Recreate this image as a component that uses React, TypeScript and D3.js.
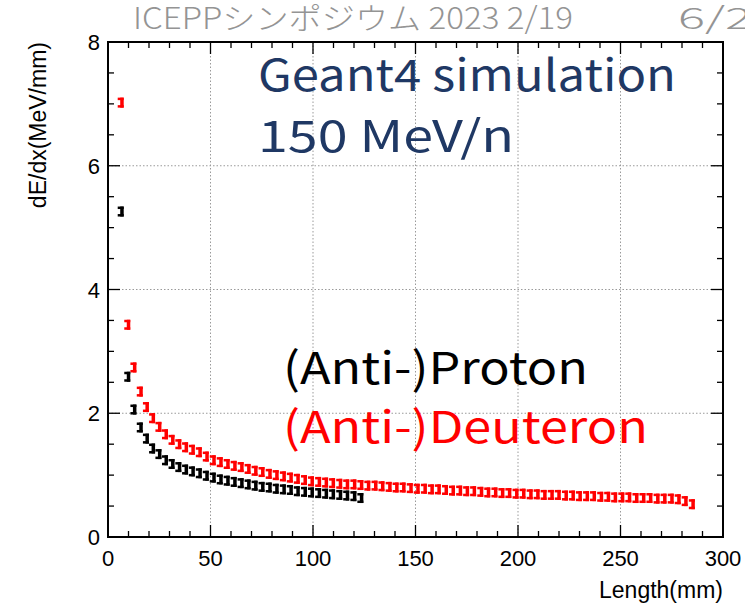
import React, { useEffect, useRef } from 'react';
import * as d3 from 'd3';

// track length (mm) at which each dE/dx sample sits
const lengths: number[] = [
  6.2, 9.4, 12.4, 15.5, 18.5, 21.5, 24.6, 27.8, 31.0, 34.3,
  37.6, 40.9, 44.3, 47.7, 51.1, 54.5, 57.9, 61.3, 64.7, 68.1,
  71.5, 74.9, 78.4, 81.8, 85.3, 88.7, 92.1, 95.6, 99.0, 102.5,
  105.9, 109.3, 112.8, 116.2, 119.7, 123.1, 126.5, 130.0, 133.4, 136.9,
  140.3, 143.7, 147.2, 150.6, 154.1, 157.5, 160.9, 164.4, 167.8, 171.3,
  174.7, 178.1, 181.6, 185.0, 188.5, 191.9, 195.3, 198.8, 202.2, 205.7,
  209.1, 212.5, 216.0, 219.4, 222.9, 226.3, 229.7, 233.2, 236.6, 240.1,
  243.5, 246.9, 250.4, 253.8, 257.3, 260.7, 264.1, 267.6, 271.0, 274.5,
  277.9, 281.3, 284.8,
];

// (Anti-)Proton dE/dx, MeV/mm
const protonDedx: number[] = [
  5.26, 2.59, 2.06, 1.77, 1.59, 1.43, 1.34, 1.24, 1.18, 1.13,
  1.09, 1.06, 1.03, 0.99, 0.96, 0.93, 0.91, 0.89, 0.87, 0.85,
  0.83, 0.81, 0.80, 0.78, 0.77, 0.76, 0.74, 0.73, 0.72, 0.71,
  0.70, 0.69, 0.68, 0.67, 0.66, 0.63,
];

// (Anti-)Deuteron dE/dx, MeV/mm
const deuteronDedx: number[] = [
  7.02, 3.43, 2.74, 2.35, 2.10, 1.92, 1.78, 1.66, 1.57, 1.50,
  1.45, 1.41, 1.37, 1.30, 1.24, 1.21, 1.18, 1.15, 1.13, 1.10,
  1.07, 1.05, 1.02, 1.00, 0.98, 0.96, 0.94, 0.92, 0.90, 0.89,
  0.88, 0.87, 0.86, 0.85, 0.85, 0.84, 0.83, 0.83, 0.82, 0.81,
  0.80, 0.80, 0.79, 0.78, 0.78, 0.77, 0.77, 0.76, 0.75, 0.75,
  0.74, 0.74, 0.73, 0.72, 0.72, 0.71, 0.71, 0.70, 0.70, 0.69,
  0.69, 0.68, 0.68, 0.68, 0.67, 0.67, 0.66, 0.66, 0.66, 0.65,
  0.65, 0.64, 0.64, 0.64, 0.63, 0.63, 0.63, 0.62, 0.62, 0.62,
  0.61, 0.58, 0.53,
];

const xTicks = [0, 50, 100, 150, 200, 250, 300];
const yTicks = [0, 2, 4, 6, 8];

const W = 745;
const H = 604;
const rootFont = '"Liberation Sans", Arial, sans-serif';
const jpFont = '"Noto Sans CJK JP", "Noto Sans", sans-serif';

const App: React.FC = () => {
  const svgRef = useRef<SVGSVGElement | null>(null);

  useEffect(() => {
    if (!svgRef.current) return;
    const svg = d3.select(svgRef.current);
    svg.selectAll('*').remove();

    const x = d3.scaleLinear().domain([0, 300]).range([108, 723]);
    const y = d3.scaleLinear().domain([0, 8]).range([537, 42]);
    const [x0, x1] = x.range();
    const [y0, y1] = y.range();

    svg.append('rect').attr('width', W).attr('height', H).attr('fill', '#fff');

    // dotted grid at major ticks
    const grid = svg.append('g').attr('stroke', '#9a9a9a').attr('stroke-width', 1)
      .attr('stroke-dasharray', '1.5,2');
    grid.selectAll('line.gx').data(xTicks.slice(1, -1)).enter().append('line')
      .attr('x1', d => x(d)).attr('x2', d => x(d)).attr('y1', y0).attr('y2', y1);
    grid.selectAll('line.gy').data(yTicks.slice(1, -1)).enter().append('line')
      .attr('y1', d => y(d)).attr('y2', d => y(d)).attr('x1', x0).attr('x2', x1);

    // ticks on all four sides, pointing inward
    const ticks = svg.append('g').attr('stroke', '#000').attr('stroke-width', 1.3);
    const xMinor = d3.range(0, 301, 10);
    const yMinor = d3.range(0, 8.01, 0.5);
    xMinor.forEach(v => {
      const len = v % 50 === 0 ? 12 : 6;
      ticks.append('line').attr('x1', x(v)).attr('x2', x(v)).attr('y1', y0).attr('y2', y0 - len);
      ticks.append('line').attr('x1', x(v)).attr('x2', x(v)).attr('y1', y1).attr('y2', y1 + len);
    });
    yMinor.forEach(v => {
      const len = v % 2 === 0 ? 12 : 6;
      ticks.append('line').attr('y1', y(v)).attr('y2', y(v)).attr('x1', x0).attr('x2', x0 + len);
      ticks.append('line').attr('y1', y(v)).attr('y2', y(v)).attr('x1', x1).attr('x2', x1 - len);
    });

    svg.append('rect')
      .attr('x', x0).attr('y', y1).attr('width', x1 - x0).attr('height', y0 - y1)
      .attr('fill', 'none').attr('stroke', '#000').attr('stroke-width', 2);

    // tick labels
    svg.append('g').selectAll('text').data(xTicks).enter().append('text')
      .attr('x', d => x(d)).attr('y', 566).attr('text-anchor', 'middle')
      .attr('font-family', rootFont).attr('font-size', 22).text(d => d);
    svg.append('g').selectAll('text').data(yTicks).enter().append('text')
      .attr('x', 100).attr('y', d => y(d) + 8).attr('text-anchor', 'end')
      .attr('font-family', rootFont).attr('font-size', 22).text(d => d);

    svg.append('text').attr('x', x1).attr('y', 598).attr('text-anchor', 'end')
      .attr('font-family', rootFont).attr('font-size', 23).text('Length(mm)');
    svg.append('text').attr('transform', `translate(46,${y1}) rotate(-90)`)
      .attr('text-anchor', 'end').attr('font-family', rootFont).attr('font-size', 23)
      .text('dE/dx(MeV/mm)');

    // ROOT-ish error-bar markers: a small "]" glyph
    const marker = (g: d3.Selection<SVGGElement, unknown, null, undefined>,
                    xs: number[], ys: number[], color: string) => {
      const pts = ys.map((v, i) => [xs[i], v] as [number, number]);
      const m = g.selectAll('g.m').data(pts).enter().append('g')
        .attr('transform', d => `translate(${x(d[0])},${y(d[1])})`).attr('fill', color);
      m.append('rect').attr('x', -3).attr('y', -5).attr('width', 6).attr('height', 2.5);
      m.append('rect').attr('x', -0.5).attr('y', -5).attr('width', 3.5).attr('height', 10);
      m.append('rect').attr('x', -3).attr('y', 2.5).attr('width', 6).attr('height', 2.5);
    };
    marker(svg.append('g'), lengths, deuteronDedx, '#ff0000');
    marker(svg.append('g'), lengths, protonDedx, '#000000');

    // slide annotations
    svg.append('text').attr('x', 133).attr('y', 29).attr('font-family', jpFont)
      .attr('font-weight', 300).attr('font-size', 30).attr('fill', '#949494')
      .attr('textLength', 440).attr('lengthAdjust', 'spacingAndGlyphs')
      .text('ICEPPシンポジウム 2023 2/19');
    svg.append('text').attr('x', 678).attr('y', 29).attr('font-family', jpFont)
      .attr('font-weight', 300).attr('font-size', 30).attr('fill', '#949494')
      .attr('textLength', 74).attr('lengthAdjust', 'spacingAndGlyphs')
      .text('6/2');

    const big = [
      { t: 'Geant4 simulation', x: 258, y: 91, w: 418, c: '#1f3864' },
      { t: '150 MeV/n', x: 258, y: 152, w: 256, c: '#1f3864' },
      { t: '(Anti-)Proton', x: 283, y: 384, w: 305, c: '#000000' },
      { t: '(Anti-)Deuteron', x: 283, y: 443, w: 365, c: '#ff0000' },
    ];
    svg.append('g').selectAll('text').data(big).enter().append('text')
      .attr('x', d => d.x).attr('y', d => d.y).attr('fill', d => d.c)
      .attr('font-family', jpFont).attr('font-size', 44)
      .attr('textLength', d => d.w).attr('lengthAdjust', 'spacingAndGlyphs')
      .text(d => d.t);
  }, []);

  return (
    <svg ref={svgRef} width={W} height={H}
      style={{ position: 'absolute', left: 0, top: 0, display: 'block' }} />
  );
};

export default App;
